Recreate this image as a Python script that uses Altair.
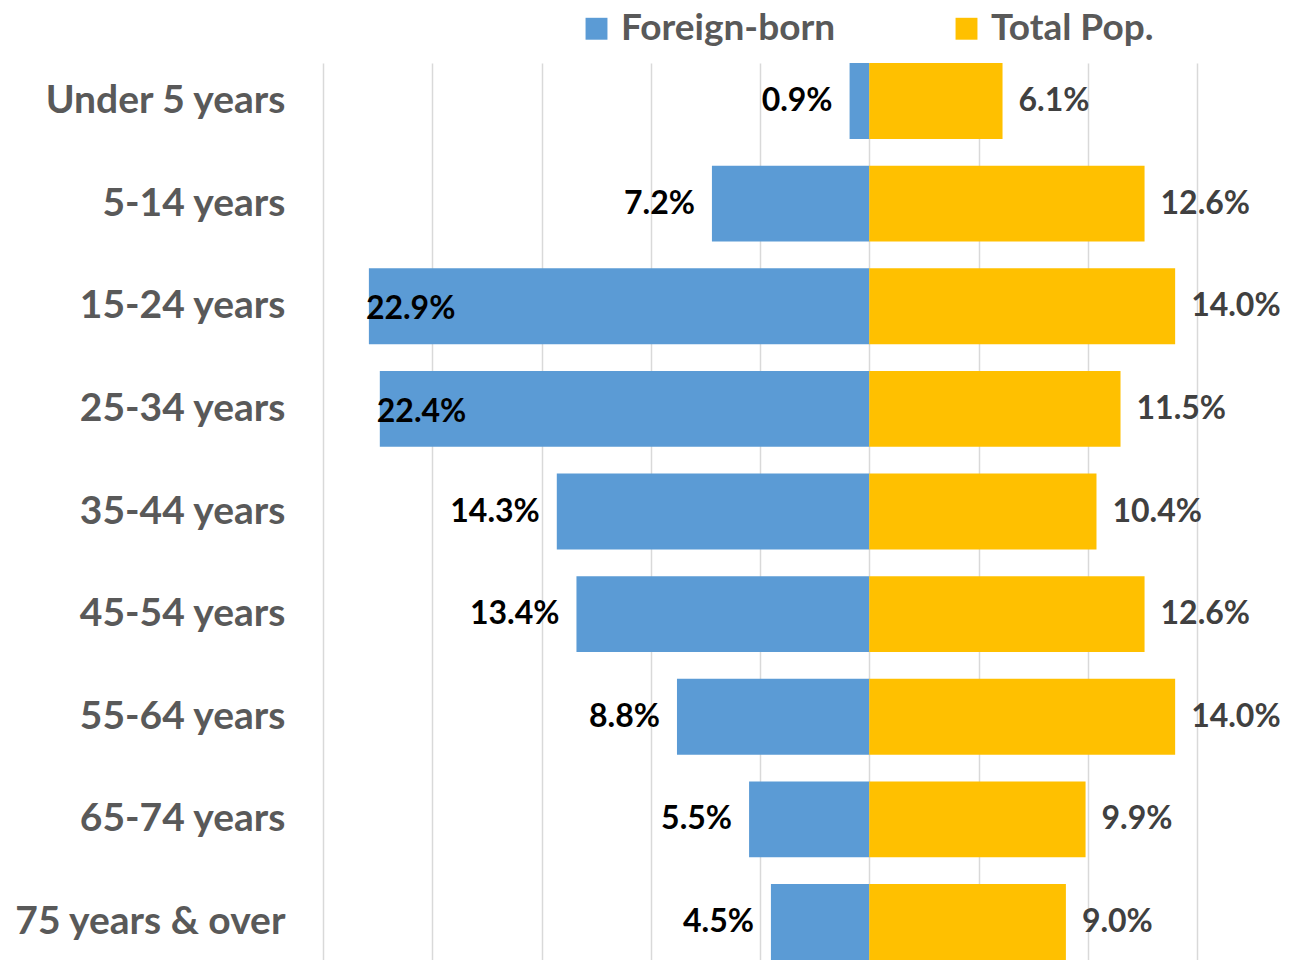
import altair as alt
import pandas as pd

categories = ["Under 5 years", "5-14 years", "15-24 years", "25-34 years", "35-44 years",
              "45-54 years", "55-64 years", "65-74 years", "75 years & over"]
foreign_born = [0.9, 7.2, 22.9, 22.4, 14.3, 13.4, 8.8, 5.5, 4.5]
total_pop = [6.1, 12.6, 14.0, 11.5, 10.4, 12.6, 14.0, 9.9, 9.0]
series = ["Foreign-born", "Total Pop."]
colors = ["#5B9BD5", "#FFC000"]
grid_values = [-25, -20, -15, -10, -5, 0, 5, 10, 15]

rows = []
for c, f, t in zip(categories, foreign_born, total_pop):
    rows.append({"cat": c, "series": series[0], "v": -f, "abs": f, "label": f"{f:.1f}%"})
    rows.append({"cat": c, "series": series[1], "v": t, "abs": t, "label": f"{t:.1f}%"})
df = pd.DataFrame(rows)

FONT = "Lato"
W, H = 874, 897
LEFT = 315

y_enc = alt.Y("cat:N", sort=categories,
              scale=alt.Scale(paddingInner=0.26, paddingOuter=0.0),
              axis=alt.Axis(title=None, ticks=False, domain=False, labelFont=FONT,
                            labelFontSize=39, labelFontWeight="bold", labelColor="#595959",
                            labelPadding=38, labelLimit=400))
x_scale = alt.Scale(domain=[-25, 15], nice=False, zero=True)

bars = alt.Chart(df).mark_bar().encode(
    x=alt.X("v:Q", scale=x_scale, stack=None,
            axis=alt.Axis(title=None, labels=False, ticks=False, domain=False,
                          values=grid_values, grid=True, gridColor="#d9d9d9", gridWidth=1.5)),
    y=y_enc,
    color=alt.Color("series:N", scale=alt.Scale(domain=series, range=colors),
                    legend=alt.Legend(orient="none", legendX=255, legendY=-53,
                                      direction="horizontal", title=None,
                                      symbolType="square", symbolSize=480,
                                      symbolStrokeWidth=0, labelFont=FONT,
                                      labelFontSize=37, labelFontWeight="bold",
                                      labelColor="#595959", labelOffset=6,
                                      columnPadding=112, labelLimit=400)),
)

base_text = alt.Chart(df)
fb_small = base_text.transform_filter(
    (alt.datum.series == "Foreign-born") & (alt.datum.abs < 20)
).mark_text(align="right", baseline="middle", dx=-17, font=FONT, fontSize=32,
            fontWeight="bold", color="#000000").encode(
    x=alt.X("v:Q", scale=x_scale), y=alt.Y("cat:N", sort=categories), text="label:N")
fb_big = base_text.transform_filter(
    (alt.datum.series == "Foreign-born") & (alt.datum.abs >= 20)
).mark_text(align="left", baseline="middle", dx=-3, dy=3, font=FONT, fontSize=32,
            fontWeight="bold", color="#000000").encode(
    x=alt.X("v:Q", scale=x_scale), y=alt.Y("cat:N", sort=categories), text="label:N")
tp = base_text.transform_filter(
    alt.datum.series == "Total Pop."
).mark_text(align="left", baseline="middle", dx=16, font=FONT, fontSize=32,
            fontWeight="bold", color="#404040").encode(
    x=alt.X("v:Q", scale=x_scale), y=alt.Y("cat:N", sort=categories), text="label:N")

chart = alt.layer(bars, fb_small, fb_big, tp).properties(
    width=W, height=H,
    padding={"left": LEFT, "top": 55, "right": 1273 - LEFT - W, "bottom": 0},
    autosize="none",
    background="white",
).configure_view(stroke=None)

chart.save("out.html", embed_options={"renderer": "svg", "actions": False})
